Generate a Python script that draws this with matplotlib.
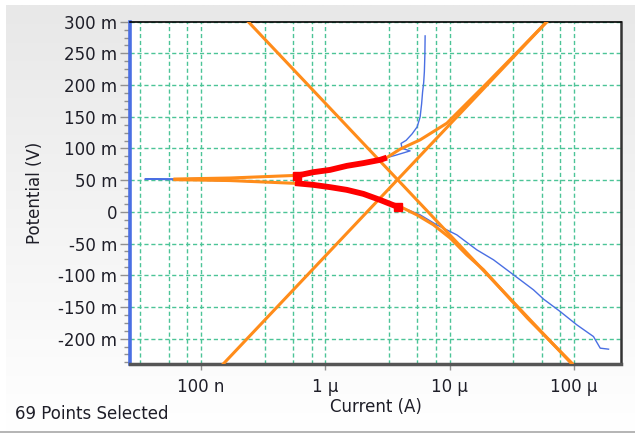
import numpy as np
import matplotlib
matplotlib.use("Agg")
import matplotlib.pyplot as plt
from matplotlib.ticker import FixedLocator, FixedFormatter, FuncFormatter, MultipleLocator, NullFormatter

W, H, DPI = 635, 434, 100

# Potentiodynamic scan, cathodic end -> anodic end (potential in mV, |current| in A)
scan_potential_mV = [
    -216.6, -215.0, -196.7, -178.2, -157.3, -137.7, -123.0, -99.4, -75.7, -59.9,
    -36.3, -20.5, -4.7, 3.2,
    7.4, 18.9, 28.4, 34.7, 39.0, 42.6, 45.3,
    48.9, 50.8, 51.6, 52.1, 53.6,
    57.3, 62.6, 66.2, 72.6, 76.9, 82.0, 85.6,
    89.1, 96.2, 100.2, 108.0, 112.8, 123.0, 134.1, 149.8, 170.3, 189.3, 203.5,
    220.8, 247.6, 277.6,
]
scan_current_A = [
    1.89e-4, 1.62e-4, 1.43e-4, 1.05e-4, 7.73e-5, 5.68e-5, 4.71e-5, 3.26e-5, 2.25e-5, 1.65e-5,
    1.14e-5, 7.87e-6, 5.78e-6, 4.62e-6,
    3.86e-6, 2.75e-6, 2.02e-6, 1.49e-6, 1.09e-6, 8.0e-7, 5.70e-7,
    1.71e-7, 6.18e-8, 3.54e-8, 6.18e-8, 1.71e-7,
    5.96e-7, 8.0e-7, 1.09e-6, 1.49e-6, 2.02e-6, 2.75e-6, 3.12e-6,
    3.64e-6, 4.80e-6, 4.14e-6, 4.06e-6, 4.46e-6, 4.98e-6, 5.47e-6, 5.78e-6, 5.94e-6, 6.05e-6, 6.17e-6,
    6.25e-6, 6.31e-6, 6.34e-6,
]

# selected point ranges (start, stop) used for the fit
selected_ranges = [(14, 21), (26, 33)]
selected_count = 69

# Fitted curve, anodic and cathodic branches
fit_anodic_current_A = [6.18e-8, 1.71e-7, 5.92e-7, 1.09e-6, 2.02e-6, 3.12e-6, 3.99e-6,
                        5.78e-6, 9.48e-6, 1.29e-5, 1.99e-5, 3.26e-5, 6.04e-5]
fit_anodic_potential_mV = [51.8, 53.4, 57.6, 66.0, 77.0, 85.6, 99.0,
                           113.6, 139.9, 166.1, 203.0, 246.0, 300.2]
fit_cathodic_current_A = [6.18e-8, 1.71e-7, 5.70e-7, 1.09e-6, 2.02e-6, 2.75e-6, 3.99e-6,
                          5.43e-6, 7.40e-6, 1.01e-5, 1.37e-5, 1.87e-5, 4.23e-5, 9.59e-5]
fit_cathodic_potential_mV = [50.8, 49.4, 45.0, 38.6, 28.4, 18.9, 8.4,
                             -4.7, -20.5, -41.5, -67.8, -91.5, -168.0, -238.6]

# Tafel lines
tafel_anodic_current_A = [1.51e-7, 6.04e-5]
tafel_anodic_potential_mV = [-240.0, 300.0]
tafel_cathodic_current_A = [2.40e-7, 9.59e-5]
tafel_cathodic_potential_mV = [300.0, -240.0]

x_ticks = [1e-7, 1e-6, 1e-5, 1e-4]
x_tick_labels = ["100 n", "1 \u00b5", "10 \u00b5", "100 \u00b5"]
x_minor_factors = [3.25, 5.5, 7.75]
x_limits = (2.69e-8, 2.38e-4)
y_limits = (-240, 300)

BLUE = "#4a6fe3"
ORANGE = "#ff8c1a"
RED = "#ff0000"
GRID = "#4cc497"
TEXT = "#1e1e28"
FS = 12

plt.rcParams["font.family"] = ["DejaVu Sans"]

fig = plt.figure(figsize=(W / DPI, H / DPI), dpi=DPI, facecolor="white")

# panel background: soft vertical grey gradient
bg = fig.add_axes([0, 0, 1, 1], zorder=-10)
bg.set_xlim(0, W)
bg.set_ylim(H, 0)
bg.axis("off")
grad = np.linspace(232, 255, 256)[:, None] / 255.0
grad = np.repeat(grad, 2, axis=1)
bg.imshow(np.dstack([grad, grad, grad]), extent=(6, W, 432, 5), aspect="auto",
          interpolation="bilinear")
bg.plot([0, W], [432, 432], color="#a8a8a8", lw=1.2)

ax_l, ax_r, ax_t, ax_b = 130, 621, 21.7, 364
ax = fig.add_axes([ax_l / W, 1 - ax_b / H, (ax_r - ax_l) / W, (ax_b - ax_t) / H])
ax.set_facecolor("white")
ax.set_xscale("log")
ax.set_xlim(*x_limits)
ax.set_ylim(*y_limits)

# ticks and grid
ax.set_axisbelow(True)
ax.xaxis.set_major_locator(FixedLocator(x_ticks))
ax.xaxis.set_major_formatter(FixedFormatter(x_tick_labels))
minor_x = [f * d for d in [1e-8, 1e-7, 1e-6, 1e-5, 1e-4] for f in x_minor_factors]
ax.xaxis.set_minor_locator(FixedLocator(minor_x))
ax.xaxis.set_minor_formatter(NullFormatter())
ax.yaxis.set_major_locator(MultipleLocator(50))
ax.yaxis.set_minor_locator(MultipleLocator(12.5))
ax.yaxis.set_major_formatter(FuncFormatter(lambda v, p: "0" if abs(v) < 1e-9 else f"{int(round(v))} m"))

dash = (0, (3, 2))
ax.grid(True, which="major", axis="both", color=GRID, lw=1.0, linestyle=dash)
ax.grid(True, which="minor", axis="x", color=GRID, lw=1.0, linestyle=dash)

ax.tick_params(axis="x", which="major", direction="out", length=4, width=1, color="#909090",
               labelsize=FS, labelcolor=TEXT, pad=6)
ax.tick_params(axis="x", which="minor", length=0)
ax.tick_params(axis="y", which="major", direction="out", length=7, width=1, color="#909090",
               labelsize=FS, labelcolor=TEXT, pad=2)
ax.tick_params(axis="y", which="minor", direction="out", length=4, width=1, color="#909090")

for side, col, lw in [("top", "#000000", 1.2), ("right", "#333333", 1.8),
                      ("bottom", "#555555", 2.5), ("left", "#4a6fe3", 2.6)]:
    ax.spines[side].set_color(col)
    ax.spines[side].set_linewidth(lw)

E = np.array(scan_potential_mV)
I = np.array(scan_current_A)

# measured data
ax.plot(I, E, color=BLUE, lw=1.0, zorder=2)

# fitted curve and Tafel lines
ax.plot(fit_anodic_current_A, fit_anodic_potential_mV, color=ORANGE, lw=2.2, zorder=3)
ax.plot(fit_cathodic_current_A, fit_cathodic_potential_mV, color=ORANGE, lw=2.2, zorder=3)
ax.plot(tafel_anodic_current_A, tafel_anodic_potential_mV, color=ORANGE, lw=2.2, zorder=3)
ax.plot(tafel_cathodic_current_A, tafel_cathodic_potential_mV, color=ORANGE, lw=2.2, zorder=3)

# selected points, with a square on the first point of each range
for a, b in selected_ranges:
    ax.plot(I[a:b], E[a:b], color=RED, lw=4.2, zorder=4, solid_capstyle="butt")
    ax.plot([I[a]], [E[a]], "s", color=RED, ms=6, zorder=5)

# labels
fig.text((ax_l + ax_r) / 2 / W, 1 - 407 / H, "Current (A)", ha="center", va="center",
         fontsize=FS, color=TEXT)
fig.text(35 / W, 1 - ((ax_t + ax_b) / 2) / H, "Potential (V)", ha="center", va="center",
         rotation=90, fontsize=FS, color=TEXT)
fig.text(15 / W, 1 - 414 / H, f"{selected_count} Points Selected", ha="left", va="center",
         fontsize=FS, color=TEXT)

fig.savefig("out.png", dpi=DPI, facecolor="white")
